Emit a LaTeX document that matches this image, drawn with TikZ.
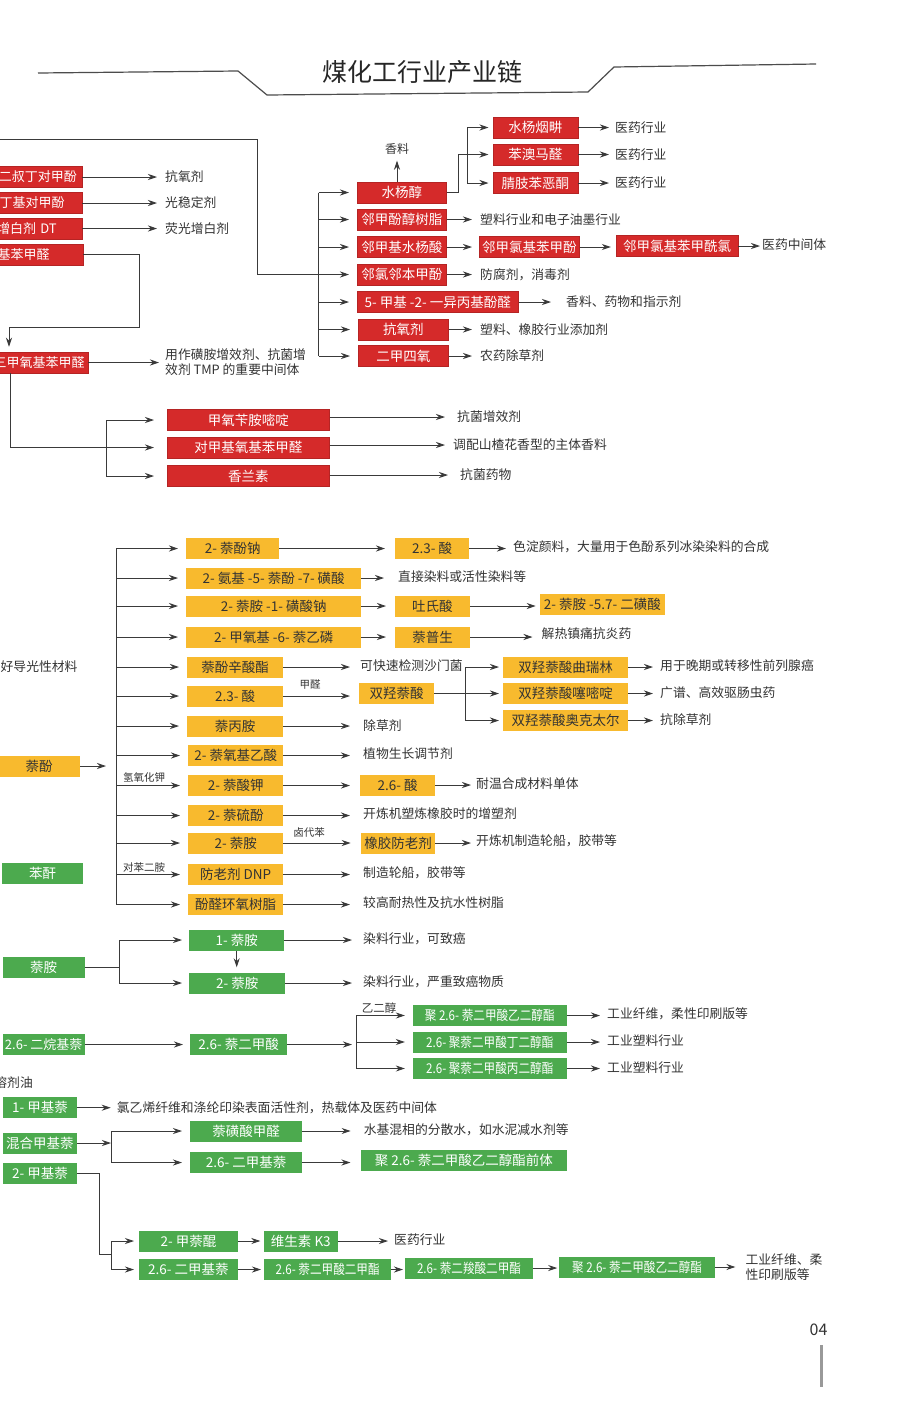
\documentclass[tikz,border=0pt]{standalone}
\usepackage{fontspec}
\usepackage{graphicx}
\setmainfont{Noto Sans CJK SC}
\usetikzlibrary{arrows.meta}
\definecolor{cred}{HTML}{D52A2A}
\definecolor{cyel}{HTML}{F8BA2E}
\definecolor{cgrn}{HTML}{4CAA4E}
\definecolor{txt}{HTML}{333333}
\definecolor{linec}{HTML}{3A3A3A}
\newcommand\boxfont{\fontsize{13.5}{15}\selectfont}
\newcommand\edgefont{\fontsize{13}{15}\selectfont}
\newcommand\lblfont{\fontsize{12.8}{15}\selectfont}
\newcommand\smfont{\fontsize{10.5}{12}\selectfont}
\newcommand\ttlfont{\fontsize{25}{28}\selectfont}
\newcommand\cnd[1]{\scalebox{0.86}[1]{#1}}
\begin{document}
\begin{tikzpicture}[x=1pt,y=-1pt,
  box/.style={minimum height=21, inner sep=0, font=\boxfont, anchor=west},
  rbox/.style={box, fill=cred, draw=cred!85!black, line width=0.5pt, text=white},
  ybox/.style={box, fill=cyel, text=txt},
  gbox/.style={box, fill=cgrn, text=white},
  edgebox/.style={rbox, anchor=east, text width=100, align=right, font=\edgefont},
  lbl/.style={anchor=west, inner sep=0, font=\lblfont, text=txt},
  ann/.style={inner sep=0, font=\smfont, text=txt},
  ln/.style={line width=0.9pt, draw=linec},
  arr/.style={ln, -{Stealth[length=9pt,width=6pt]}},
]
\fill[white] (0,0) rectangle (906,1406);
\useasboundingbox (0,0) rectangle (906,1406);

% ---------- title ----------
\node[font=\ttlfont, text=black!85] (title) at (422,72) {煤化工行业产业链};
\draw[line width=1.2pt, draw=black!70] (38,73) -- (238,71) -- (267,95) -- (588,92) -- (614,67) -- (816,64);

% ---------- red: left column ----------
\node[edgebox, inner xsep=5] (a1) at (82,177) {二叔丁对甲酚};
\node[edgebox, inner xsep=17] (a2) at (82,203) {丁基对甲酚};
\node[edgebox, inner xsep=25] (a3) at (82,228.5) {增白剂 DT};
\node[edgebox, inner xsep=33] (a4) at (83,254.5) {基苯甲醛};
\node[edgebox, inner xsep=3] (a5) at (88,362.5) {三甲氧基苯甲醛};
\node[lbl] (a1l) at (165,177) {抗氧剂};
\node[lbl] (a2l) at (165,203) {光稳定剂};
\node[lbl] (a3l) at (165,228.5) {荧光增白剂};
\node[lbl, align=left] (a5l) at (165,362.5) {用作磺胺增效剂、抗菌增\\效剂 TMP 的重要中间体};
\draw[arr, shorten >=8pt] (a1.east) -- (a1l.west);
\draw[arr, shorten >=8pt] (a2.east) -- (a2l.west);
\draw[arr, shorten >=8pt] (a3.east) -- (a3l.west);
\draw[arr, shorten >=6pt] (a5.east) -- (a5l.west);
\coordinate (a4turn) at (9,327);
\draw[arr, shorten >=5pt] (a4.east) -- (139,254.5) -- (139,327) -- (a4turn) -- (a4turn |- a5.north);

% ---------- red: lower group ----------
\node[rbox, minimum width=162] (m1) at (167,420) {甲氧苄胺嘧啶};
\node[rbox, minimum width=162] (m2) at (167,447.5) {对甲基氧基苯甲醛};
\node[rbox, minimum width=162] (m3) at (167,476) {香兰素};
\coordinate (a5v) at (10,373);
\coordinate (mb) at (106,0);
\draw[arr, shorten >=13pt] (a5v) -- (a5v |- m2.west) -- (m2.west);
\draw[ln] (mb |- m1.west) -- (mb |- m3.west);
\draw[arr, shorten >=13pt] (mb |- m1.west) -- (m1.west);
\draw[arr, shorten >=13pt] (mb |- m3.west) -- (m3.west);
\node[lbl] (m1l) at (457,417) {抗菌增效剂};
\node[lbl] (m2l) at (453,445) {调配山楂花香型的主体香料};
\node[lbl] (m3l) at (460,475) {抗菌药物};
\draw[arr, shorten >=12pt] (m1.east |- m1l.west) -- (m1l.west);
\draw[arr, shorten >=8pt] (m2.east |- m2l.west) -- (m2l.west);
\draw[arr, shorten >=12pt] (m3.east |- m3l.west) -- (m3l.west);

% ---------- red: right column ----------
\coordinate (tl) at (-5,139);
\coordinate (rb) at (318.6,0);
\node[rbox, minimum width=89] (r1) at (357,192.5) {水杨醇};
\node[rbox, minimum width=89] (r2) at (357,219.5) {邻甲酚醇树脂};
\node[rbox, minimum width=89] (r3) at (357,247) {邻甲基水杨酸};
\node[rbox, minimum width=89] (r4) at (357,274.5) {邻氯邻本甲酚};
\node[rbox, minimum width=161] (r5) at (357,302) {5- 甲基 -2- 一异丙基酚醛};
\node[rbox, minimum width=90] (r6) at (358,329.5) {抗氧剂};
\node[rbox, minimum width=90] (r7) at (358,356) {二甲四氧};
\draw[ln] (tl) -- (257,139) -- (257,274.5) -- (rb |- r4.west);
\draw[ln] (rb |- r1.west) -- (rb |- r7.west);
\foreach \nm in {r1,r2,r3,r4,r5,r6,r7} \draw[arr, shorten >=8pt] (rb |- \nm.west) -- (\nm.west);

\node[lbl, anchor=center, font=\fontsize{12}{14}\selectfont] (xl) at (397,149) {香料};
\draw[arr, shorten >=6pt] (xl.south |- r1.north) -- (xl.south);

\node[rbox, minimum width=85] (s1) at (492.5,127.5) {水杨烟畊};
\node[rbox, minimum width=85] (s2) at (492.5,154.5) {苯澳马醛};
\node[rbox, minimum width=85] (s3) at (492.5,183) {腈肢苯恶酮};
\coordinate (sa) at (458,0);
\coordinate (sbb) at (467,0);
\draw[arr, shorten >=4pt] (r1.east) -- (sa |- r1.east) -- (sa |- s2.west) -- (s2.west);
\draw[ln] (sbb |- s1.west) -- (sbb |- s3.west);
\draw[arr, shorten >=4pt] (sbb |- s1.west) -- (s1.west);
\draw[arr, shorten >=4pt] (sbb |- s3.west) -- (s3.west);
\node[lbl] (s1l) at (615,127.5) {医药行业};
\node[lbl] (s2l) at (615,154.5) {医药行业};
\node[lbl] (s3l) at (615,183) {医药行业};
\draw[arr, shorten >=6pt] (s1.east) -- (s1l.west);
\draw[arr, shorten >=6pt] (s2.east) -- (s2l.west);
\draw[arr, shorten >=6pt] (s3.east) -- (s3l.west);

\node[lbl] (r2l) at (480,219.5) {塑料行业和电子油墨行业};
\node[rbox, minimum width=100] (t1) at (479,247) {邻甲氯基苯甲酚};
\node[rbox, minimum width=122] (t2) at (615.8,246) {邻甲氯基苯甲酰氯};
\node[lbl] (t2l) at (762,245) {医药中间体};
\node[lbl] (r4l) at (480,274.5) {防腐剂，消毒剂};
\node[lbl] (r5l) at (566,302) {香料、药物和指示剂};
\node[lbl] (r6l) at (480,329.5) {塑料、橡胶行业添加剂};
\node[lbl] (r7l) at (480,356) {农药除草剂};
\draw[arr, shorten >=8pt] (r2.east) -- (r2l.west);
\draw[arr, shorten >=7pt] (r3.east) -- (t1.west);
\draw[arr, shorten >=5pt] (t1.east) -- (t1.east -| t2.west);
\draw[arr, shorten >=2pt] (t2.east) -- (t2.east -| t2l.west);
\draw[arr, shorten >=8pt] (r4.east) -- (r4l.west);
\draw[arr, shorten >=15pt] (r5.east) -- (r5l.west);
\draw[arr, shorten >=8pt] (r6.east) -- (r6l.west);
\draw[arr, shorten >=8pt] (r7.east) -- (r7l.west);

% ---------- yellow ----------
\node[lbl] (hdg) at (0.5,667) {好导光性材料};
\node[ybox, minimum width=82] (nf) at (-2,766) {萘酚};
\coordinate (nfend) at (106,766);
\draw[arr] (nf.east) -- (nfend);
\node[gbox, minimum width=81] (bg) at (2,873.3) {苯酐};

\coordinate (yb) at (116,0);
\node[ybox, minimum width=93] (y1) at (186,548.5) {2- 萘酚钠};
\node[ybox, minimum width=175] (y2) at (186,578) {2- 氨基 -5- 萘酚 -7- 磺酸};
\node[ybox, minimum width=175] (y3) at (186,606) {2- 萘胺 -1- 磺酸钠};
\node[ybox, minimum width=175] (y4) at (186,637) {2- 甲氧基 -6- 萘乙磷};
\node[ybox, minimum width=96] (y5) at (187,667) {萘酚辛酸酯};
\node[ybox, minimum width=96] (y6) at (187,696) {2.3- 酸};
\node[ybox, minimum width=96] (y7) at (187,726) {萘丙胺};
\node[ybox, minimum width=95] (y8) at (188,755.5) {2- 萘氧基乙酸};
\node[ybox, minimum width=95] (y9) at (188,785.5) {2- 萘酸钾};
\node[ybox, minimum width=95] (y10) at (188,815.5) {2- 萘硫酚};
\node[ybox, minimum width=95] (y11) at (188,843) {2- 萘胺};
\node[ybox, minimum width=95] (y12) at (188,874.5) {防老剂 DNP};
\node[ybox, minimum width=95] (y13) at (188,904.5) {酚醛环氧树脂};
\draw[ln] (yb |- y1.west) -- (yb |- y13.west);
\foreach \nm in {y1,y2,y3,y4,y5,y6,y7,y8,y9,y10,y11,y12,y13} \draw[arr, shorten >=8pt] (yb |- \nm.west) -- (\nm.west);
\node[ann] (khj) at (144,777) {氢氧化钾};
\node[ann] (dbea) at (144,868) {对苯二胺};

\node[ybox, minimum width=74] (z1) at (395,548.5) {2.3- 酸};
\node[lbl] (z1l) at (513,547) {色淀颜料，大量用于色酚系列冰染染料的合成};
\draw[arr, shorten >=10pt] (y1.east) -- (z1.west);
\draw[arr, shorten >=7pt] (z1.east) -- (z1.east -| z1l.west);

\node[lbl] (y2l) at (398,577) {直接染料或活性染料等};
\draw[arr, shorten >=14pt] (y2.east) -- (y2.east -| y2l.west);

\node[ybox, minimum width=74.5] (z3) at (395,606) {吐氏酸};
\node[ybox, minimum width=125] (w3) at (539.7,604) {2- 萘胺 -5.7- 二磺酸};
\draw[arr, shorten >=9pt] (y3.east) -- (z3.west);
\draw[arr, shorten >=4pt] (z3.east) -- (z3.east -| w3.west);

\node[ybox, minimum width=75] (z4) at (395,637) {萘普生};
\node[lbl] (z4l) at (541.5,634) {解热镇痛抗炎药};
\draw[arr, shorten >=9pt] (y4.east) -- (z4.west);
\draw[arr, shorten >=9pt] (z4.east) -- (z4.east -| z4l.west);

\node[lbl] (y5l) at (360,666) {可快速检测沙门菌};
\draw[arr, shorten >=10pt] (y5.east) -- (y5.east -| y5l.west);

\node[ybox, minimum width=75] (z6) at (359,693.5) {双羟萘酸};
\node[ann] (jq) at (310,684) {甲醛};
\draw[arr, shorten >=9pt] (y6.east) -- (y6.east -| z6.west);
\node[ybox, minimum width=125] (v1) at (503,667) {双羟萘酸曲瑞林};
\node[ybox, minimum width=125] (v2) at (503,693.5) {双羟萘酸噻嘧啶};
\node[ybox, minimum width=125] (v3) at (503,720.5) {双羟萘酸奥克太尔};
\coordinate (vb) at (465,0);
\draw[ln] (z6.east) -- (vb |- z6.east);
\draw[ln] (vb |- v1.west) -- (vb |- v3.west);
\draw[arr, shorten >=4pt] (vb |- v1.west) -- (v1.west);
\draw[arr, shorten >=4pt] (vb |- v2.west) -- (v2.west);
\draw[arr, shorten >=4pt] (vb |- v3.west) -- (v3.west);
\node[lbl] (v1l) at (660,666) {用于晚期或转移性前列腺癌};
\node[lbl] (v2l) at (660,692.5) {广谱、高效驱肠虫药};
\node[lbl] (v3l) at (660,719.5) {抗除草剂};
\draw[arr, shorten >=7pt] (v1.east) -- (v1.east -| v1l.west);
\draw[arr, shorten >=7pt] (v2.east) -- (v2.east -| v2l.west);
\draw[arr, shorten >=7pt] (v3.east) -- (v3.east -| v3l.west);

\node[lbl] (y7l) at (363,726) {除草剂};
\node[lbl] (y8l) at (363,754) {植物生长调节剂};
\node[ybox, minimum width=75] (z9) at (360,785) {2.6- 酸};
\node[lbl] (z9l) at (476,784) {耐温合成材料单体};
\node[lbl] (y10l) at (363,814) {开炼机塑炼橡胶时的增塑剂};
\node[ybox, minimum width=74.3] (z11) at (360.7,843) {橡胶防老剂};
\node[ann] (ldb) at (309,833) {卤代苯};
\node[lbl] (z11l) at (476,841) {开炼机制造轮船，胶带等};
\node[lbl] (y12l) at (363,873) {制造轮船，胶带等};
\node[lbl] (y13l) at (363,902.5) {较高耐热性及抗水性树脂};
\draw[arr, shorten >=13pt] (y7.east) -- (y7.east -| y7l.west);
\draw[arr, shorten >=13pt] (y8.east) -- (y8.east -| y8l.west);
\draw[arr, shorten >=10pt] (y9.east) -- (y9.east -| z9.west);
\draw[arr, shorten >=5pt] (z9.east) -- (z9.east -| z9l.west);
\draw[arr, shorten >=13pt] (y10.east) -- (y10.east -| y10l.west);
\draw[arr, shorten >=10pt] (y11.east) -- (z11.west);
\draw[arr, shorten >=5pt] (z11.east) -- (z11.east -| z11l.west);
\draw[arr, shorten >=13pt] (y12.east) -- (y12.east -| y12l.west);
\draw[arr, shorten >=13pt] (y13.east) -- (y13.east -| y13l.west);

% ---------- green ----------
\node[gbox, minimum width=81.6] (gn) at (2.7,967.5) {萘胺};
\node[gbox, minimum width=95] (n1) at (189,940) {1- 萘胺};
\node[gbox, minimum width=96] (n2) at (189,983) {2- 萘胺};
\coordinate (nb) at (119.3,0);
\draw[ln] (gn.east) -- (nb |- gn.east);
\draw[ln] (nb |- n1.west) -- (nb |- n2.west);
\draw[arr, shorten >=7pt] (nb |- n1.west) -- (n1.west);
\draw[arr, shorten >=7pt] (nb |- n2.west) -- (n2.west);
\draw[arr, shorten >=5pt] (n1.south) -- (n1.south |- n2.north);
\node[lbl] (n1l) at (363,939) {染料行业，可致癌};
\node[lbl] (n2l) at (363,982) {染料行业，严重致癌物质};
\draw[arr, shorten >=11pt] (n1.east) -- (n1.east -| n1l.west);
\draw[arr, shorten >=11pt] (n2.east) -- (n2.east -| n2l.west);

\node[gbox, minimum width=81.6, font=\edgefont] (g2) at (2.7,1044.5) {2.6- 二烷基萘};
\node[gbox, minimum width=96.7] (p) at (190,1044.5) {2.6- 萘二甲酸};
\draw[arr, shorten >=7pt] (g2.east) -- (p.west);
\coordinate (pend) at (352,1044.5);
\draw[arr] (p.east) -- (pend);
\node[gbox, minimum width=153.5] (q1) at (412.8,1015.5) {\cnd{聚 2.6- 萘二甲酸乙二醇酯}};
\node[gbox, minimum width=153.5] (q2) at (412.8,1042) {\cnd{2.6- 聚萘二甲酸丁二醇酯}};
\node[gbox, minimum width=153.5] (q3) at (412.8,1068.5) {\cnd{2.6- 聚萘二甲酸丙二醇酯}};
\coordinate (qb) at (356,0);
\draw[ln] (qb |- q1.west) -- (qb |- q3.west);
\draw[arr, shorten >=8pt] (qb |- q1.west) -- (q1.west);
\draw[arr, shorten >=8pt] (qb |- q2.west) -- (q2.west);
\draw[arr, shorten >=8pt] (qb |- q3.west) -- (q3.west);
\node[ann, font=\fontsize{11.5}{13}\selectfont] (yec) at (379,1008) {乙二醇};
\node[lbl] (q1l) at (607,1014) {工业纤维，柔性印刷版等};
\node[lbl] (q2l) at (607,1041) {工业塑料行业};
\node[lbl] (q3l) at (607,1068) {工业塑料行业};
\draw[arr, shorten >=7pt] (q1.east) -- (q1.east -| q1l.west);
\draw[arr, shorten >=7pt] (q2.east) -- (q2.east -| q2l.west);
\draw[arr, shorten >=7pt] (q3.east) -- (q3.east -| q3l.west);

\node[lbl, anchor=east] (rjy) at (33,1083) {溶剂油};

\node[gbox, minimum width=73.5] (h1) at (3,1107.7) {1- 甲基萘};
\node[gbox, minimum width=73.5] (h2) at (3,1143) {混合甲基萘};
\node[gbox, minimum width=73.5] (h3) at (3,1173) {2- 甲基萘};
\node[lbl] (h1l) at (116.7,1107.5) {氯乙烯纤维和涤纶印染表面活性剂，热载体及医药中间体};
\draw[arr, shorten >=6pt] (h1.east) -- (h1.east -| h1l.west);

\node[gbox, minimum width=112] (k1) at (190,1131) {萘磺酸甲醛};
\node[gbox, minimum width=112] (k2) at (190,1162.5) {2.6- 二甲基萘};
\node[gbox, minimum width=206.5] (k3) at (360.5,1160.5) {聚 2.6- 萘二甲酸乙二醇酯前体};
\node[lbl] (k1l) at (363.6,1129.5) {水基混相的分散水，如水泥减水剂等};
\coordinate (kb) at (111,0);
\draw[arr] (h2.east) -- (kb |- h2.east);
\draw[ln] (kb |- k1.west) -- (kb |- k2.west);
\draw[arr, shorten >=8pt] (kb |- k1.west) -- (k1.west);
\draw[arr, shorten >=8pt] (kb |- k2.west) -- (k2.west);
\draw[arr, shorten >=13pt] (k1.east) -- (k1.east -| k1l.west);
\draw[arr, shorten >=10pt] (k2.east) -- (k2.east -| k3.west);

\node[gbox, minimum width=99.5] (j1) at (138.5,1241) {2- 甲萘醌};
\node[gbox, minimum width=74.7] (j1b) at (263.3,1241) {维生素 K3};
\node[lbl] (j1l) at (394,1239.5) {医药行业};
\node[gbox, minimum width=99.5] (j2) at (138.5,1269.5) {2.6- 二甲基萘};
\node[gbox, minimum width=127] (j3) at (264,1269.5) {\cnd{2.6- 萘二甲酸二甲酯}};
\node[gbox, minimum width=127.7] (j4) at (405,1268) {\cnd{2.6- 萘二羧酸二甲酯}};
\node[gbox, minimum width=155.3] (j5) at (559.2,1267) {\cnd{聚 2.6- 萘二甲酸乙二醇酯}};
\node[lbl, align=left] (j5l) at (745.4,1267.5) {工业纤维、柔\\性印刷版等};
\coordinate (jmid) at (99.5,1254);
\coordinate (jb) at (111.7,0);
\draw[ln] (h3.east) -- (jmid |- h3.east) -- (jmid) -- (jb |- jmid);
\draw[ln] (jb |- j1.west) -- (jb |- j2.west);
\draw[arr, shorten >=4.5pt] (jb |- j1.west) -- (j1.west);
\draw[arr, shorten >=4.5pt] (jb |- j2.west) -- (j2.west);
\draw[arr, shorten >=3pt] (j1.east) -- (j1b.west);
\draw[arr, shorten >=6pt] (j1b.east) -- (j1b.east -| j1l.west);
\draw[arr, shorten >=3pt] (j2.east) -- (j3.west);
\draw[arr, shorten >=2pt] (j3.east) -- (j3.east -| j4.west);
\draw[arr, shorten >=2pt] (j4.east) -- (j4.east -| j5.west);
\draw[arr, shorten >=10pt] (j5.east) -- (j5.east -| j5l.west);

% ---------- page number ----------
\node[font=\fontsize{16}{18}\selectfont, text=txt] (pg) at (818.5,1330) {04};
\fill[black!40] (819.5,1345) rectangle (822.5,1387);
\end{tikzpicture}
\end{document}
